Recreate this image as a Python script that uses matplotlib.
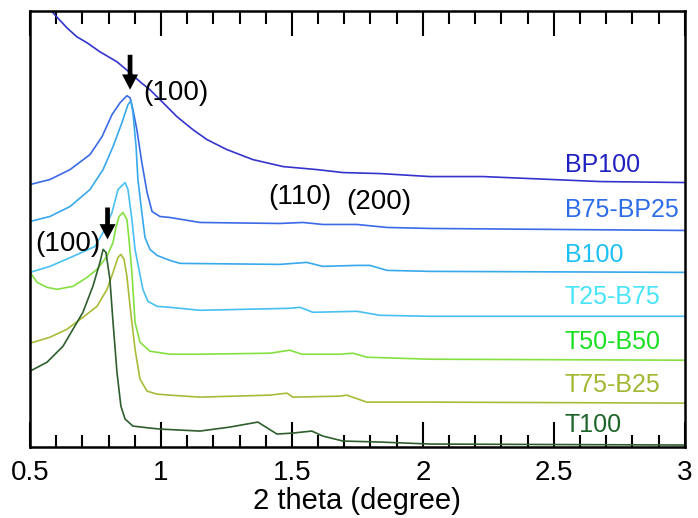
import numpy as np
import matplotlib
matplotlib.use("Agg")
import matplotlib.pyplot as plt
from matplotlib.ticker import MultipleLocator, FormatStrFormatter

plt.rcParams['font.family'] = ['Liberation Sans', 'DejaVu Sans']

# SAXS patterns, offset stacked (arbitrary intensity units)
samples = ["BP100", "B75-BP25", "B100", "T25-B75", "T50-B50", "T75-B25", "T100"]

bp100_x = [0.573, 0.588, 0.641, 0.679, 0.718, 0.767, 0.832, 0.882, 0.920, 0.958, 1.008, 1.061, 1.122, 1.176,
           1.252, 1.351, 1.466, 1.595, 1.695, 1.836, 2.027, 2.229, 2.676, 3.0]
bp100_y = [443, 435, 420, 411, 405, 396, 386, 375, 366, 358, 345, 331, 318, 308,
           298, 288, 281, 278, 275, 274, 271, 271, 266, 265]

b75bp25_x = [0.5, 0.576, 0.653, 0.729, 0.775, 0.813, 0.844, 0.870, 0.882, 0.893, 0.908, 0.927, 0.947, 0.966,
             0.996, 1.034, 1.149, 1.454, 1.542, 1.618, 1.748, 1.863, 2.027, 3.0]
b75bp25_y = [263, 268, 278, 293, 311, 333, 345, 352, 350, 338, 318, 285, 255, 236,
             231, 230, 225, 224, 225, 223, 223, 220, 219, 217]

b100_x = [0.5, 0.576, 0.653, 0.729, 0.779, 0.817, 0.851, 0.874, 0.885, 0.893, 0.905, 0.912, 0.927, 0.939,
          0.958, 0.985, 1.034, 1.073, 1.454, 1.557, 1.618, 1.748, 1.798, 1.863, 2.027, 3.0]
b100_y = [226, 231, 241, 258, 278, 301, 325, 343, 347, 335, 301, 268, 235, 210,
          198, 192, 187, 184, 183, 185, 181, 182, 182, 177, 176, 175]

t25b75_x = [0.5, 0.576, 0.664, 0.748, 0.779, 0.813, 0.836, 0.863, 0.874, 0.889, 0.901, 0.931, 0.950, 0.985,
            1.034, 1.149, 1.492, 1.531, 1.580, 1.748, 1.836, 2.027, 3.0]
t25b75_y = [175, 181, 191, 201, 215, 235, 258, 265, 258, 228, 198, 158, 146, 141,
            140, 137, 139, 140, 135, 136, 132, 131, 131]

t50b50_x = [0.5, 0.527, 0.565, 0.603, 0.664, 0.718, 0.756, 0.794, 0.817, 0.828, 0.840, 0.855, 0.870, 0.878,
            0.889, 0.901, 0.920, 0.958, 1.034, 1.149, 1.416, 1.492, 1.538, 1.683, 1.733, 1.786, 2.027, 3.0]
t50b50_y = [175, 165, 160, 158, 161, 170, 178, 191, 205, 220, 231, 235, 228, 208,
            175, 125, 105, 96, 93, 93, 94, 97, 93, 93, 94, 90, 88, 87]

t75b25_x = [0.5, 0.576, 0.641, 0.702, 0.756, 0.794, 0.817, 0.836, 0.847, 0.859, 0.870, 0.882, 0.901, 0.920,
            0.947, 0.985, 1.034, 1.149, 1.416, 1.481, 1.504, 1.683, 1.710, 1.786, 2.027, 3.0]
t75b25_y = [104, 110, 118, 130, 141, 158, 175, 190, 193, 188, 171, 141, 98, 68,
            56, 53, 52, 50, 52, 54, 50, 51, 52, 45, 45, 44]

t100_x = [0.5, 0.565, 0.626, 0.664, 0.702, 0.740, 0.767, 0.779, 0.790, 0.805, 0.817, 0.832, 0.847, 0.863,
          0.893, 0.958, 0.996, 1.149, 1.263, 1.370, 1.443, 1.504, 1.576, 1.618, 1.695, 1.836, 2.027, 3.0]
t100_y = [76, 85, 101, 118, 135, 161, 185, 198, 195, 168, 125, 75, 41, 28,
          21, 19, 18, 16, 20, 25, 13, 14, 16, 11, 6, 5, 3, 2]

xs = [bp100_x, b75bp25_x, b100_x, t25b75_x, t50b50_x, t75b25_x, t100_x]
ys = [bp100_y, b75bp25_y, b100_y, t25b75_y, t50b50_y, t75b25_y, t100_y]

line_colors = ['#3434cc', '#3a6ae6', '#38a8ec', '#48c0f2', '#84e040', '#a8bc38', '#2e5e2e']
label_colors = ['#2020c0', '#2e6ce8', '#1cc0f4', '#48e4f8', '#18e020', '#a0b832', '#1c6428']
label_y = [283, 237, 192, 150, 105, 62, 22]

fig = plt.figure(figsize=(6.98, 5.18), dpi=100)
ax = fig.add_axes([0.043, 0.137, 0.938, 0.842])

for x, y, c in zip(xs, ys, line_colors):
    ax.plot(x, y, color=c, lw=1.2)

for name, ly, c in zip(samples, label_y, label_colors):
    ax.text(2.542, ly, name, color=c, fontsize=18, va='center', ha='left')

# peak indices
ax.text(0.931, 355, "(100)", fontsize=20, va='center', ha='left')
ax.text(0.519, 203, "(100)", fontsize=20, va='center', ha='left')
ax.text(1.408, 251, "(110)", fontsize=20, va='center', ha='left')
ax.text(1.706, 246, "(200)", fontsize=20, va='center', ha='left')

# arrows over the (100) peaks
for xa, ytip, ytop in [(0.882, 358, 393), (0.796, 208, 240)]:
    ax.annotate("", xy=(xa, ytip), xytext=(xa, ytop),
                arrowprops=dict(width=3.4, headwidth=11.5, headlength=11, shrink=0,
                                facecolor='black', edgecolor='none'))

ax.set_xlim(0.5, 3.0)
ax.set_ylim(0, 437)
ax.set_yticks([])
ax.xaxis.set_major_locator(MultipleLocator(0.5))
ax.xaxis.set_minor_locator(MultipleLocator(0.1))
ax.xaxis.set_major_formatter(FormatStrFormatter('%g'))
ax.tick_params(axis='x', which='both', direction='in', top=True, bottom=True,
               labelsize=20, width=1.5, pad=9)
ax.tick_params(axis='x', which='major', length=18)
ax.tick_params(axis='x', which='minor', length=9)
for s in ax.spines.values():
    s.set_linewidth(1.8)
ax.set_xlabel("2 theta (degree)", fontsize=21, labelpad=1)

fig.savefig("out.png", dpi=100)
